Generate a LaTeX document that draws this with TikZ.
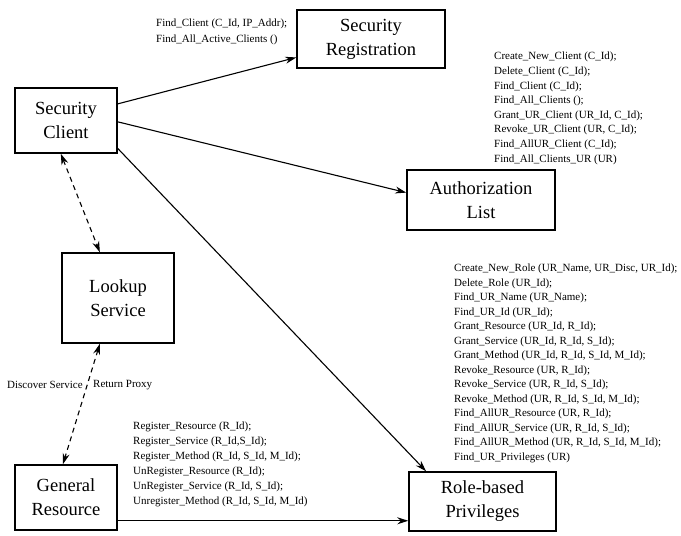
\documentclass[tikz,border=0pt]{standalone}
\usepackage{fontspec}
\setmainfont{Liberation Serif}
\usetikzlibrary{calc,arrows.meta}
\begin{document}
\begin{tikzpicture}[x=1pt,y=-1pt,
  box/.style={draw,line width=1.5pt,inner sep=0pt,align=center,font=\fontsize{18.5}{24}\selectfont},
  lst/.style={inner sep=0pt,anchor=north west,align=left},
  conn/.style={line width=1.1pt,-{Stealth[length=11pt,width=7pt]}},
  dconn/.style={line width=1.1pt,dash pattern=on 5pt off 4pt,{Stealth[length=11pt,width=7pt]}-{Stealth[length=11pt,width=7pt]}}]
\useasboundingbox (0,0) rectangle (681,536);

% boxes
\node[box,minimum width=148pt,minimum height=58pt] (sr) at (371,39) {Security\\Registration};
\node[box,minimum width=102pt,minimum height=65pt] (sc) at (66,120.5) {Security\\Client};
\node[box,minimum width=148pt,minimum height=60pt] (al) at (481,200) {Authorization\\List};
\node[box,minimum width=112pt,minimum height=90pt] (ls) at (118,298) {Lookup\\Service};
\node[box,minimum width=102pt,minimum height=65pt] (gr) at (66,497.5) {General\\Resource};
\node[box,minimum width=147pt,minimum height=59pt] (rp) at (482.5,501.5) {Role-based\\Privileges};

% method lists
\node[lst,font=\fontsize{11}{16}\selectfont] (t1) at (156,19) {Find\_Client (C\_Id, IP\_Addr);\\Find\_All\_Active\_Clients ()};
\node[lst,font=\fontsize{11}{14.6}\selectfont] (t2) at (494,52) {Create\_New\_Client (C\_Id);\\Delete\_Client (C\_Id);\\Find\_Client (C\_Id);\\Find\_All\_Clients ();\\Grant\_UR\_Client (UR\_Id, C\_Id);\\Revoke\_UR\_Client (UR, C\_Id);\\Find\_AllUR\_Client (C\_Id);\\Find\_All\_Clients\_UR (UR)};
\node[lst,font=\fontsize{11}{14.5}\selectfont] (t3) at (454,264) {Create\_New\_Role (UR\_Name, UR\_Disc, UR\_Id);\\Delete\_Role (UR\_Id);\\Find\_UR\_Name (UR\_Name);\\Find\_UR\_Id (UR\_Id);\\Grant\_Resource (UR\_Id, R\_Id);\\Grant\_Service (UR\_Id, R\_Id, S\_Id);\\Grant\_Method (UR\_Id, R\_Id, S\_Id, M\_Id);\\Revoke\_Resource (UR, R\_Id);\\Revoke\_Service (UR, R\_Id, S\_Id);\\Revoke\_Method (UR, R\_Id, S\_Id, M\_Id);\\Find\_AllUR\_Resource (UR, R\_Id);\\Find\_AllUR\_Service (UR, R\_Id, S\_Id);\\Find\_AllUR\_Method (UR, R\_Id, S\_Id, M\_Id);\\Find\_UR\_Privileges (UR)};
\node[lst,font=\fontsize{11}{15}\selectfont] (t4) at (133,422) {Register\_Resource (R\_Id);\\Register\_Service (R\_Id,S\_Id);\\Register\_Method (R\_Id, S\_Id, M\_Id);\\UnRegister\_Resource (R\_Id);\\UnRegister\_Service (R\_Id, S\_Id);\\Unregister\_Method (R\_Id, S\_Id, M\_Id)};
\node[inner sep=0pt,anchor=west,font=\fontsize{11}{13}\selectfont] (d1) at (7,385) {Discover Service};
\node[inner sep=0pt,anchor=west,font=\fontsize{11}{13}\selectfont] (d2) at (93,385) {Return Proxy};

% connectors
\draw[conn] ($(sc.north east)!0.25!(sc.south east)$) -- ($(sr.north west)!0.81!(sr.south west)$);
\draw[conn] ($(sc.north east)!0.52!(sc.south east)$) -- ($(al.north west)!0.38!(al.south west)$);
\draw[conn] ($(sc.north east)!0.92!(sc.south east)$) -- ($(rp.north west)!0.12!(rp.north east)$);
\coordinate (g1) at ($(gr.north east)!0.85!(gr.south east)$);
\draw[conn] (g1) -- (g1 -| rp.west);
\draw[dconn] ($(sc.south west)!0.45!(sc.south east)$) -- ($(ls.north west)!0.34!(ls.north east)$);
\draw[dconn] ($(ls.south west)!0.34!(ls.south east)$) -- ($(gr.north west)!0.47!(gr.north east)$);
\end{tikzpicture}
\end{document}
